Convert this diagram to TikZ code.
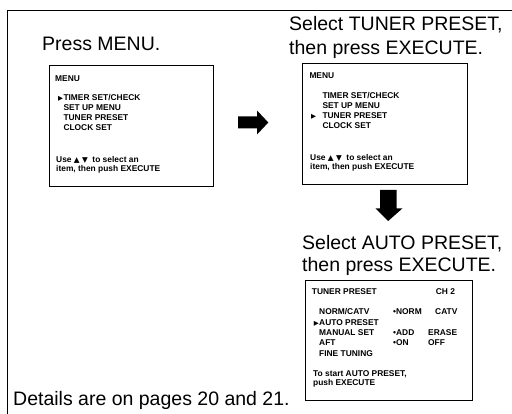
\documentclass[tikz,border=0pt]{standalone}
\usepackage{fontspec}
\setmainfont{Liberation Sans}
\newfontfamily\symfont{DejaVu Sans}
\newcommand{\ptr}{{\symfont\fontsize{6.5}{6.5}\selectfont ▶}}
\newcommand{\upk}{{\symfont\fontsize{7.5}{7.5}\selectfont ▲}}
\newcommand{\dnk}{{\symfont\fontsize{7.5}{7.5}\selectfont ▼}}
\begin{document}
\begin{tikzpicture}[x=1pt,y=-1pt,
  big/.style={anchor=base west,inner sep=0pt,font=\fontsize{19.5}{23}\selectfont},
  small/.style={anchor=base west,inner sep=0pt,font=\fontsize{8.4}{10}\selectfont\bfseries},
  screen/.style={draw,line width=1pt,anchor=north west,inner sep=0pt}]
\useasboundingbox (0,0) rectangle (512,414);
\draw[line width=0.8pt] (512,10.5) -| (7.3,414);
% step 1
\node[big] (press) at (42,50.5) {Press MENU.};
\node[screen,minimum width=164pt,minimum height=121pt] (scrA) at (49,65) {};
\node[small] (menuA) at (55,81.5) {MENU};
\foreach \t [count=\i] in {TIMER SET/CHECK,SET UP MENU,TUNER PRESET,CLOCK SET}
  \node[small] (itemA\i) at (63.3,{91+10*\i}) {\t};
\node[small,anchor=base east] (ptrA) at (itemA1.base west) {\ptr};
\node[small] (useA) at (56,162.7) {Use \upk\ \dnk\ \ to select an};
\node[small] (pushA) at (56,171.7) {item, then push EXECUTE};
\fill (238,116.5) -- (257,116.5) -- (257,110.5) -- (268.3,122.5) -- (257,134.5)
  -- (257,128.5) -- (238,128.5) -- cycle;
% step 2
\node[big] (selA) at (289,30.5) {Select TUNER PRESET,};
\node[big] (exeA) at (289,55) {then press EXECUTE.};
\node[screen,minimum width=165pt,minimum height=121pt] (scrB) at (302,63) {};
\node[small] (menuB) at (309.3,78.7) {MENU};
\foreach \t [count=\i] in {TIMER SET/CHECK,SET UP MENU,TUNER PRESET,CLOCK SET}
  \node[small] (itemB\i) at (322.3,{88.7+10*\i}) {\t};
\node[small] (ptrB) at (311,118.7) {\ptr};
\node[small] (useB) at (310,160.3) {Use \upk\ \dnk\ \ to select an};
\node[small] (pushB) at (310,169.3) {item, then push EXECUTE};
\fill (380,190) -- (396.5,190) -- (396.5,208.5) -- (402.3,208.5) -- (388.2,221)
  -- (375.7,208.5) -- (380,208.5) -- cycle;
% step 3
\node[big] (selB) at (302,250) {Select AUTO PRESET,};
\node[big] (exeB) at (302,272) {then press EXECUTE.};
\node[screen,minimum width=167pt,minimum height=120pt] (scrC) at (305,280) {};
\node[small] (tunC) at (311.7,295) {TUNER PRESET};
\node[small] (chC) at (435.7,295) {CH 2};
\node[small] (normC) at (319,315) {NORM/CATV};
\node[small] (normV) at (393,315) {•NORM};
\node[small] (catvV) at (435,315) {CATV};
\node[small,anchor=base east] (ptrC) at (319,325.3) {\ptr};
\node[small] (autoC) at (319,325.3) {AUTO PRESET};
\node[small] (manC) at (319,336) {MANUAL SET};
\node[small] (addV) at (393,336) {•ADD};
\node[small] (eraV) at (428,336) {ERASE};
\node[small] (aftC) at (319,346) {AFT};
\node[small] (onV) at (393,346) {•ON};
\node[small] (offV) at (428,346) {OFF};
\node[small] (fineC) at (319,356) {FINE TUNING};
\node[small] (startC) at (313,376.7) {To start AUTO PRESET,};
\node[small] (pushC) at (313,386) {push EXECUTE};
\node[big] (details) at (13,406) {Details are on pages 20 and 21.};
\end{tikzpicture}
\end{document}
